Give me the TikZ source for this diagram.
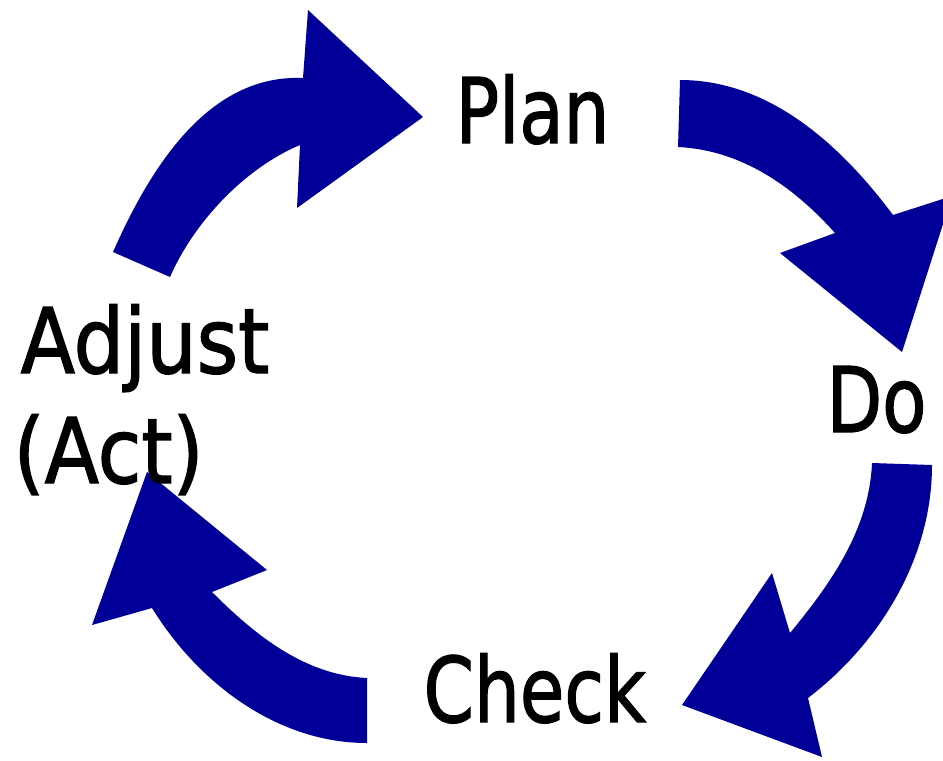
\documentclass[tikz,border=0pt]{standalone}
\usepackage{fontspec}
\setmainfont{DejaVu Sans}
\newfontfamily\labelfont{DejaVu Sans}[FakeBold=1.6]
\definecolor{cycleblue}{RGB}{0,0,153}
\tikzset{
  cyclearrow/.style={fill=cycleblue, draw=none},
  steplabel/.style={anchor=base west, inner sep=0pt, xscale=.8,
    font=\labelfont\fontsize{25.7}{30}\selectfont}
}

\begin{document}
\begin{tikzpicture}[x=.01cm, y=-.01cm]
\useasboundingbox (0,0) rectangle (943,760);
\clip (0,0) rectangle (943,760);
% adjust -> plan
\fill[cyclearrow] (113,252) .. controls (151,166) and (209,74) .. (303,78) -- (308,10) -- (423,117) -- (297,208) -- (300,145) .. controls (245,168) and (194,222) .. (170,277) -- cycle;
% plan -> do
\fill[cyclearrow] (680,80) .. controls (769,80) and (840,144) .. (893,215) -- (952,196) -- (902,352) -- (780,253) -- (835,233) .. controls (793,186) and (741,150) .. (678,147) -- cycle;
% do -> check
\fill[cyclearrow] (932,465) .. controls (932,557) and (881,642) .. (808,698) -- (822,757) -- (682,705) -- (772,573) -- (790,633) .. controls (832,582) and (869,529) .. (872,463) -- cycle;
% check -> adjust
\fill[cyclearrow] (367,743) .. controls (278,743) and (199,684) .. (152,608) -- (92,625) -- (147,472) -- (267,570) -- (212,592) .. controls (256,636) and (305,675) .. (367,678) -- cycle;
% labels
\node[steplabel] (plan) at (455,143) {Plan};
\node[steplabel] (do) at (826,432) {Do};
\node[steplabel] (check) at (423,722) {Check};
\node[steplabel, xscale=1.1] (adjust) at (20,373) {Adjust};
\node[steplabel, xscale=1.1] (act) at (13,483) {(Act)};
\end{tikzpicture}
\end{document}
